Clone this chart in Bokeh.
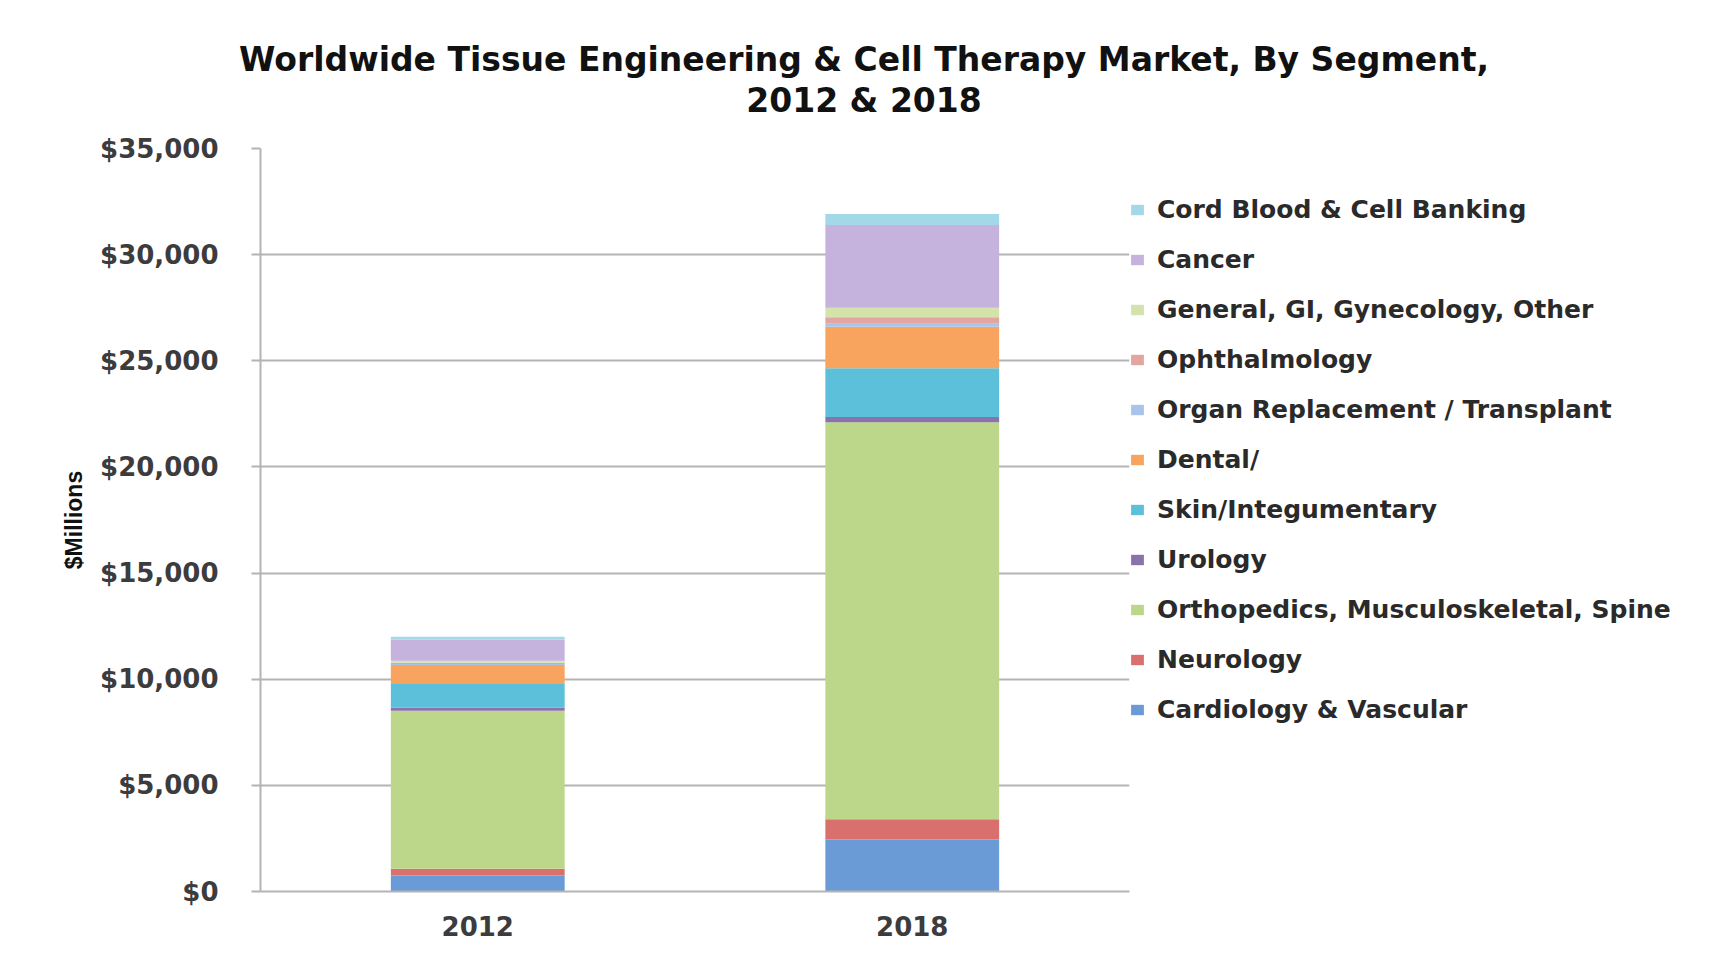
from bokeh.plotting import figure
from bokeh.models import (Range1d, FactorRange, FixedTicker, NumeralTickFormatter,
                          Legend, LegendItem, Title)
from bokeh.embed import file_html
from bokeh.resources import INLINE

# ---------------- data ----------------
years = ["2012", "2018"]
segments = [  # bottom -> top of stack
    "Cardiology & Vascular",
    "Neurology",
    "Orthopedics, Musculoskeletal, Spine",
    "Urology",
    "Skin/Integumentary",
    "Dental/",
    "Organ Replacement / Transplant",
    "Ophthalmology",
    "General, GI, Gynecology, Other",
    "Cancer",
    "Cord Blood & Cell Banking",
]
cardiology = [750, 2450]
neurology = [320, 950]
orthopedics = [7450, 18700]
urology = [150, 250]
skin = [1100, 2300]
dental = [900, 1950]
organ = [50, 150]
ophthalmology = [50, 300]
general = [100, 450]
cancer = [1000, 3900]
cord_blood = [130, 520]
y_ticks = [0, 5000, 10000, 15000, 20000, 25000, 30000, 35000]
title_lines = ["Worldwide Tissue Engineering & Cell Therapy Market, By Segment,",
               "2012 & 2018"]

series = [cardiology, neurology, orthopedics, urology, skin, dental,
          organ, ophthalmology, general, cancer, cord_blood]
colors = ["#6a9bd6", "#d9706d", "#bcd78a", "#8a72ad", "#5cc0da", "#f8a45e",
          "#a9c4e8", "#e3a5a0", "#d3e3ab", "#c5b2dd", "#a3d8e8"]

keys = [f"s{i}" for i in range(len(segments))]
source = {"year": years}
for k, vals in zip(keys, series):
    source[k] = vals

FONT = "DejaVu Sans"
GRID = "#b4b4b4"
FRAME_W, FRAME_H = 869, 743
LEFT, TOP = 260, 148
TITLE_SHIFT = 169  # title centre lies right of the frame centre

p = figure(x_range=FactorRange(*years), y_range=Range1d(0, 35000),
           frame_width=FRAME_W, frame_height=FRAME_H,
           min_border_left=LEFT, min_border_right=590,
           min_border_top=TOP, min_border_bottom=62,
           output_backend="svg", toolbar_location=None,
           background_fill_color="white", border_fill_color="white")
p.outline_line_color = None

renderers = p.vbar_stack(keys, x="year", width=0.4, color=colors,
                         line_color=None, source=source)

# title: two centred lines (second line added first = closest to the frame)
for line, pad_bottom in [(title_lines[1], 29), (title_lines[0], 0)]:
    p.add_layout(Title(text=line, align="center", text_font=FONT,
                       text_font_size="33px", text_font_style="bold",
                       text_color="#111111", standoff=0,
                       padding=dict(left=2 * TITLE_SHIFT, right=0, top=0,
                                    bottom=pad_bottom)),
                 "above")

# axes
p.yaxis.ticker = FixedTicker(ticks=y_ticks)
p.yaxis.formatter = NumeralTickFormatter(format="$0,0")
p.yaxis.major_label_text_font = FONT
p.yaxis.major_label_text_font_size = "26px"
p.yaxis.major_label_text_font_style = "bold"
p.yaxis.major_label_text_color = "#3c3c3c"
p.yaxis.major_tick_out = 9
p.yaxis.major_tick_in = 0
p.yaxis.minor_tick_line_color = None
p.yaxis.major_tick_line_color = GRID
p.yaxis.major_tick_line_width = 2
p.yaxis.axis_line_color = GRID
p.yaxis.axis_line_width = 2
p.yaxis.major_label_standoff = 33
p.yaxis.axis_label = "$Millions"
p.yaxis.axis_label_text_font = "Liberation Sans"
p.yaxis.axis_label_text_font_style = "bold"
p.yaxis.axis_label_text_font_size = "23px"
p.yaxis.axis_label_text_color = "#111111"
p.yaxis.axis_label_standoff = 10

p.xaxis.major_label_text_font = FONT
p.xaxis.major_label_text_font_size = "26px"
p.xaxis.major_label_text_font_style = "bold"
p.xaxis.major_label_text_color = "#3c3c3c"
p.xaxis.major_tick_line_color = None
p.xaxis.major_tick_out = 0
p.xaxis.major_tick_in = 0
p.xaxis.major_label_standoff = 24
p.xaxis.axis_line_color = GRID
p.xaxis.axis_line_width = 2

p.xgrid.grid_line_color = None
p.ygrid.grid_line_color = GRID
p.ygrid.grid_line_width = 2

# legend (reverse order, as in the original)
items = [LegendItem(label=seg, renderers=[r]) for seg, r in zip(segments, renderers)]
items = items[::-1]
legend = Legend(items=items, location=(0, 166), orientation="vertical",
                label_text_font=FONT, label_text_font_size="25px",
                label_text_font_style="bold",
                label_text_color="#2a2a2a", label_standoff=12,
                glyph_width=16, glyph_height=13, label_height=31, spacing=19,
                padding=4, margin=0, border_line_color=None,
                background_fill_alpha=0)
p.add_layout(legend, "right")

open("out.html", "w").write(file_html(p, INLINE))
